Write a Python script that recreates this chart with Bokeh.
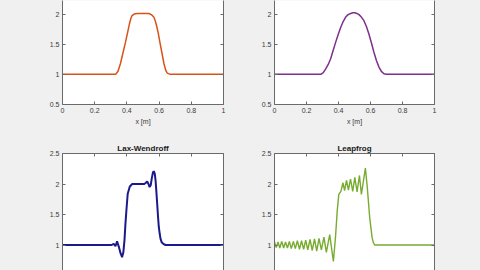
from bokeh.plotting import figure
from bokeh.layouts import column, row
from bokeh.models import LinearAxis, FixedTicker, CustomJSTickFormatter, Range1d
from bokeh.embed import file_html
from bokeh.resources import INLINE

# ---- data ----
x_ticks = [0, 0.2, 0.4, 0.6, 0.8, 1.0]
y_ticks = [0.5, 1.0, 1.5, 2.0, 2.5]

x_tl = [0, 0.30, 0.33, 0.345, 0.36, 0.375, 0.391, 0.405, 0.416, 0.425, 0.432, 0.445,
        0.464, 0.5, 0.536, 0.552, 0.567, 0.576, 0.584, 0.595, 0.605, 0.618, 0.63,
        0.642, 0.651, 0.67, 1.0]
y_tl = [1, 1, 1.0, 1.05, 1.18, 1.35, 1.53, 1.70, 1.84, 1.93, 1.975, 2.0, 2.01, 2.01,
        2.01, 1.99, 1.95, 1.89, 1.81, 1.68, 1.53, 1.35, 1.18, 1.06, 1.02, 1.0, 1.0]

x_tr = [0, 0.26, 0.289, 0.305, 0.32, 0.335, 0.351, 0.366, 0.382, 0.398, 0.414, 0.43,
        0.445, 0.46, 0.476, 0.49, 0.501, 0.515, 0.528, 0.543, 0.559, 0.575, 0.59,
        0.606, 0.621, 0.637, 0.653, 0.668, 0.684, 0.70, 0.715, 1.0]
y_tr = [1, 1, 1.0, 1.03, 1.09, 1.16, 1.26, 1.39, 1.53, 1.66, 1.78, 1.88, 1.95, 1.99,
        2.01, 2.02, 2.02, 2.01, 1.99, 1.95, 1.89, 1.79, 1.67, 1.52, 1.37, 1.23, 1.12,
        1.05, 1.01, 1.0, 1.0, 1.0]

x_lw = [0, 0.29, 0.305, 0.318, 0.329, 0.339, 0.35, 0.36, 0.37, 0.378, 0.385, 0.391,
        0.397, 0.405, 0.418, 0.433, 0.46, 0.49, 0.508, 0.518, 0.526, 0.534, 0.541,
        0.548, 0.555, 0.562, 0.567, 0.573, 0.578, 0.583, 0.588, 0.593, 0.598, 0.604,
        0.609, 0.617, 0.626, 0.64, 0.65, 1.0]
y_lw = [1, 1, 1.0, 1.02, 0.98, 1.06, 0.97, 0.87, 0.8, 0.88, 1.08, 1.35, 1.57, 1.84,
        1.96, 2.0, 2.0, 2.0, 2.0, 2.02, 2.04, 2.0, 1.95, 1.98, 2.1, 2.19, 2.21, 2.17,
        2.06, 1.88, 1.68, 1.48, 1.3, 1.18, 1.1, 1.04, 1.02, 1.0, 1.0, 1.0]

x_lf = [0.0, 0.011, 0.022, 0.033, 0.045, 0.057, 0.069, 0.081, 0.093, 0.105, 0.118,
        0.130, 0.143, 0.156, 0.169, 0.182, 0.195, 0.208, 0.222, 0.236, 0.250, 0.264,
        0.278, 0.293, 0.309, 0.324, 0.345, 0.368, 0.381, 0.392, 0.402, 0.415, 0.428,
        0.438, 0.45, 0.462, 0.475, 0.489, 0.502, 0.516, 0.531, 0.543, 0.568, 0.58,
        0.595, 0.61, 0.618, 0.626, 0.64, 1.0]
y_lf = [1.05, 0.96, 1.05, 0.95, 1.06, 0.95, 1.05, 0.95, 1.06, 0.94, 1.06, 0.94, 1.07,
        0.93, 1.07, 0.93, 1.08, 0.92, 1.09, 0.91, 1.10, 0.90, 1.11, 0.92, 1.13, 0.88,
        1.17, 0.73, 1.12, 1.56, 1.83, 1.88, 2.02, 1.89, 2.06, 1.9, 2.08, 1.88, 2.11,
        1.87, 2.14, 1.83, 2.26, 1.94, 1.45, 1.12, 1.04, 1.0, 1.0, 1.0]

titles = ["", "", "Lax-Wendroff", "Leapfrog"]
colors = ["#D95319", "#7E2F8E", "#1a1a8c", "#77AC30"]

BG = "#F0F0F0"
AX = "#6a6a6a"
TXT = "#3a3a3a"
FONT = "Liberation Sans"

fmt = CustomJSTickFormatter(code="return String(Math.round(tick*10)/10)")
blank = CustomJSTickFormatter(code="return ''")


def style_axis(ax, ticks, labels=True):
    ax.ticker = FixedTicker(ticks=ticks)
    ax.axis_line_color = AX
    ax.major_tick_line_color = AX
    ax.major_tick_in = 3
    ax.major_tick_out = 0
    ax.minor_tick_line_color = None
    ax.major_label_text_font = FONT
    ax.major_label_text_color = TXT
    ax.major_label_standoff = 3
    if labels:
        ax.formatter = fmt
        ax.major_label_text_font_size = "7px"
    else:
        ax.formatter = blank
        ax.major_label_text_font_size = "1px"
        ax.major_label_standoff = 0


def make(i, left, fw, right, top, fh, bottom, yr, toprow):
    p = figure(frame_width=fw, frame_height=fh,
               min_border_left=left, min_border_right=right,
               min_border_top=top, min_border_bottom=bottom,
               x_range=Range1d(0, 1), y_range=Range1d(*yr),
               x_axis_location="below" if toprow else None,
               toolbar_location=None, output_backend="svg",
               background_fill_color="white", border_fill_color=BG,
               outline_line_color=None,
               styles={"background-color": BG})
    p.grid.visible = False
    style_axis(p.yaxis[0], y_ticks)
    ra = LinearAxis()
    style_axis(ra, y_ticks, labels=False)
    p.add_layout(ra, "right")
    if toprow:
        style_axis(p.xaxis[0], x_ticks)
        p.xaxis[0].axis_label = "x [m]"
        p.xaxis[0].axis_label_text_font = FONT
        p.xaxis[0].axis_label_text_font_size = "7px"
        p.xaxis[0].axis_label_text_font_style = "normal"
        p.xaxis[0].axis_label_text_color = TXT
        p.xaxis[0].axis_label_standoff = 2
    else:
        ta = LinearAxis()
        style_axis(ta, x_ticks, labels=False)
        p.add_layout(ta, "above")
        p.title.text = titles[i]
        p.title.align = "center"
        p.title.text_font = FONT
        p.title.text_font_size = "8px"
        p.title.text_font_style = "bold"
        p.title.text_color = "#1a1a1a"
        p.title.standoff = 1
        p.title.offset = 0
    return p


top_yr = (0.5, 0.5 + 104 / 60.3)
bot_yr = (2.5 - 117 / 61.0, 2.5)

p1 = make(0, 62, 161, 17, 0, 104, 31, top_yr, True)
p2 = make(1, 34, 160, 46, 0, 104, 31, top_yr, True)
p3 = make(2, 62, 161, 17, 18, 117, 0, bot_yr, False)
p4 = make(3, 34, 160, 46, 18, 117, 0, bot_yr, False)

p1.line(x_tl, y_tl, line_color=colors[0], line_width=1.5)
p2.line(x_tr, y_tr, line_color=colors[1], line_width=1.5)
p3.line(x_lw, y_lw, line_color=colors[2], line_width=2)
p4.line(x_lf, y_lf, line_color=colors[3], line_width=1.4)

r1 = row(p1, p2, spacing=0, styles={"background-color": BG})
r2 = row(p3, p4, spacing=0, styles={"background-color": BG})
layout = column(r1, r2, spacing=0, styles={"background-color": BG})
open("out.html", "w").write(file_html(layout, INLINE))
